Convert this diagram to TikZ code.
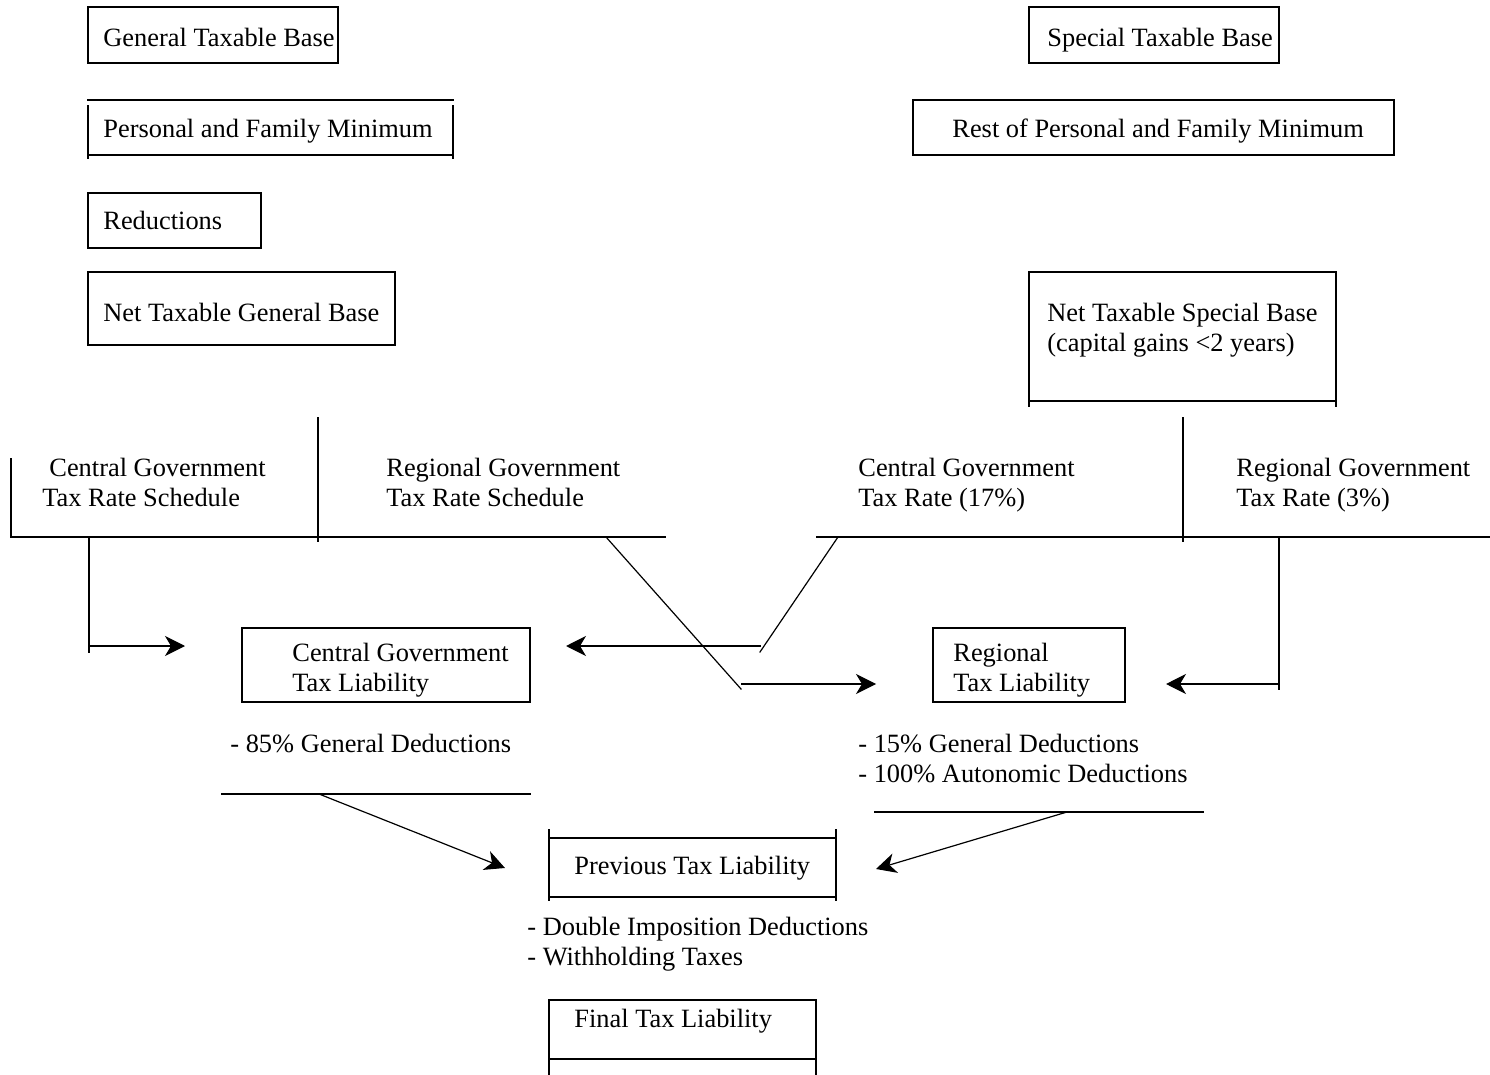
\documentclass[tikz,border=0pt]{standalone}
\usepackage{fontspec}
\setmainfont{Liberation Serif}
\usetikzlibrary{arrows.meta}
\newcommand{\twoline}[2]{\begin{tabular}[t]{@{}l@{}}#1\\#2\end{tabular}}
\begin{document}
\begin{tikzpicture}[x=0.5pt,y=-0.5pt,
  txt/.style={anchor=base west,inner sep=0pt,font=\fontsize{13.2}{15}\selectfont},
  ln/.style={line width=0.6pt,line cap=rect},
  arr/.style={line width=0.6pt,-{Stealth[length=10pt,width=10pt,inset=3pt]}}]
\useasboundingbox (0,0) rectangle (1490,1075);

% ---- top left boxes
\draw[ln] (88,7) rectangle (338,63);
\node[txt] (gtb) at (103,47) {General Taxable Base};
\draw[ln] (88,100) -- (453,100);
\draw[ln] (88,106) -- (88,158) (88,155) -- (453,155) (453,106) -- (453,158);
\node[txt] (pfm) at (103,138) {Personal and Family Minimum};
\draw[ln] (88,193) rectangle (261,248);
\node[txt] (red) at (103,230) {Reductions};
\draw[ln] (88,272) rectangle (395,345);
\node[txt] (ntgb) at (103,322) {Net Taxable General Base};

% ---- top right boxes
\draw[ln] (1029,7) rectangle (1279,63);
\node[txt] (stb) at (1047,47) {Special Taxable Base};
\draw[ln] (913,100) rectangle (1394,155);
\node[txt] (rpfm) at (952,138) {Rest of Personal and Family Minimum};
\draw[ln] (1029,272) rectangle (1336,401);
\draw[ln] (1029,401) -- (1029,406) (1336,401) -- (1336,406);
\node[txt] (ntsb) at (1047,322) {\twoline{Net Taxable Special Base}{(capital gains <2 years)}};

% ---- rate schedules
\draw[ln] (11,459) -- (11,537);
\draw[ln] (318,418) -- (318,541);
\draw[ln] (11,537) -- (665,537);
\node[txt] (cgs) at (42,476) {\twoline{\hspace*{3.5pt}Central Government}{Tax Rate Schedule}};
\node[txt] (rgs) at (386,476) {\twoline{Regional Government}{Tax Rate Schedule}};
\draw[ln] (817,537) -- (1490,537);
\draw[ln] (1183,418) -- (1183,541);
\node[txt] (cgr) at (858,476) {\twoline{Central Government}{Tax Rate (17\%)}};
\node[txt] (rgr) at (1236,476) {\twoline{Regional Government}{Tax Rate (3\%)}};

% ---- liability boxes
\draw[ln] (242,628) rectangle (530,702);
\node[txt] (cgl) at (292,661) {\twoline{Central Government}{Tax Liability}};
\draw[ln] (933,628) rectangle (1125,702);
\node[txt] (rtl) at (953,661) {\twoline{Regional}{Tax Liability}};

% ---- connectors to liabilities
\coordinate (a1) at (89,537); \coordinate (a2) at (89,652);
\coordinate (a3) at (89,646); \coordinate (a4) at (185,646);
\draw[ln] (a1) -- (a2);
\draw[arr] (a3) -- (a4);

\coordinate (b1) at (838,537); \coordinate (b2) at (760,652);
\coordinate (b3) at (761,646); \coordinate (b4) at (566,646);
\draw[ln] (b1) -- (b2);
\draw[arr] (b3) -- (b4);

\coordinate (c1) at (606,537); \coordinate (c2) at (741,689);
\coordinate (c3) at (741,684); \coordinate (c4) at (876,684);
\draw[ln] (c1) -- (c2);
\draw[arr] (c3) -- (c4);

\coordinate (d1) at (1279,537); \coordinate (d2) at (1279,689);
\coordinate (d3) at (1279,684); \coordinate (d4) at (1166,684);
\draw[ln] (d1) -- (d2);
\draw[arr] (d3) -- (d4);

% ---- deductions
\node[txt] (d85) at (230,752) {- 85\% General Deductions};
\coordinate (e1) at (222,794); \coordinate (e2) at (530,794);
\coordinate (e3) at (319,794); \coordinate (e4) at (505,868);
\draw[ln] (e1) -- (e2);
\draw[arr] (e3) -- (e4);
\node[txt] (d15) at (858,752) {\twoline{- 15\% General Deductions}{- 100\% Autonomic Deductions}};
\coordinate (f1) at (875,812); \coordinate (f2) at (1203,812);
\coordinate (f3) at (1067,812); \coordinate (f4) at (876,869);
\draw[ln] (f1) -- (f2);
\draw[arr] (f3) -- (f4);

% ---- previous / final
\draw[ln] (549,830) -- (549,900) (836,830) -- (836,900) (549,838) -- (836,838) (549,897) -- (836,897);
\node[txt] (ptl) at (574,874) {Previous Tax Liability};
\node[txt] (dd) at (527,935) {\twoline{- Double Imposition Deductions}{- Withholding Taxes}};
\draw[ln] (549,1075) -- (549,1000) -- (816,1000) -- (816,1075) (549,1059) -- (816,1059);
\node[txt] (ftl) at (574,1027) {Final Tax Liability};
\end{tikzpicture}
\end{document}
